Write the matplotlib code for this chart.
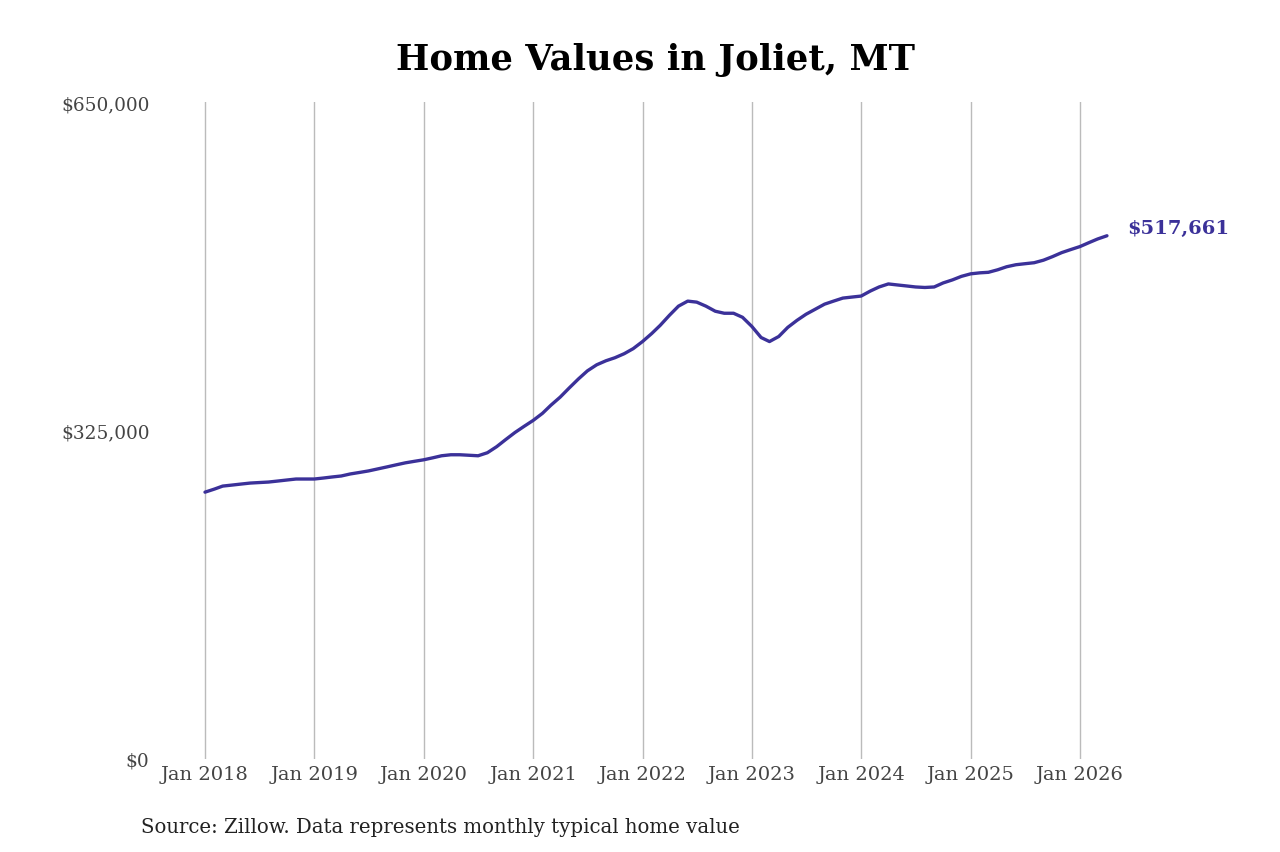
import numpy as np
import matplotlib.pyplot as plt
import matplotlib.dates as mdates
import pandas as pd

plt.rcParams['font.family'] = ['DejaVu Serif']

# monthly typical home value, Jan 2018 .. Apr 2026 (thousands of dollars)
values_k = [
    264, 267, 270, 271, 272, 273, 273.5, 274, 275, 276, 277, 277,
    277, 278, 279, 280, 282, 283.5, 285, 287, 289, 291, 293, 294.5,
    296, 298, 300, 301, 301, 300.5, 300, 303, 309, 316, 323, 329,
    335, 342, 350, 358, 367, 376, 384, 390, 394, 397, 401, 406,
    413, 421, 429, 439, 448, 453, 452, 448, 443, 441, 441, 437,
    428, 417, 413, 418, 427, 434, 440, 445, 450, 453, 456, 457,
    458, 463, 467, 470, 469, 468, 467, 466.5, 467, 471, 474, 477.5,
    480, 481, 481.5, 484, 487, 489, 490, 491, 493.5, 497, 501, 504,
    507, 511, 514.5, 517.661,
]
dates = pd.date_range('2018-01-01', periods=len(values_k), freq='MS')
values = np.array(values_k) * 1000

tick_years = list(range(2018, 2027))
tick_dates = [pd.Timestamp(f'{y}-01-01') for y in tick_years]
tick_labels = [f'Jan {y}' for y in tick_years]
y_ticks = [0, 325000, 650000]
y_labels = ['$0', '$325,000', '$650,000']

line_color = '#3b3199'

fig = plt.figure(figsize=(12.8, 8.53), dpi=100)
ax = fig.add_axes([155 / 1280, 1 - 760 / 853, (1110 - 155) / 1280, (760 - 103) / 853])

ax.plot(dates, values, color=line_color, lw=2.4, solid_capstyle='round')

x0 = mdates.date2num(pd.Timestamp('2018-01-01'))
x1 = mdates.date2num(pd.Timestamp('2026-01-01'))
per_px = (x1 - x0) / (1080 - 205)
ax.set_xlim(x0 - 50 * per_px, x1 + 30 * per_px)
ax.set_ylim(0, 650000)

ax.set_xticks(tick_dates)
ax.set_xticklabels(tick_labels)
ax.set_yticks(y_ticks)
ax.set_yticklabels(y_labels)
ax.tick_params(axis='both', length=0, labelcolor='#444444')
ax.tick_params(axis='x', pad=4, labelsize=14)
ax.tick_params(axis='y', pad=4, labelsize=13.3)

ax.grid(axis='x', color='#bbbbbb', lw=1)
ax.grid(axis='y', visible=False)
for s in ax.spines.values():
    s.set_visible(False)

ax.annotate(f'${values[-1]:,.0f}', xy=(dates[-1], values[-1]),
            xytext=(20, 8), textcoords='offset pixels',
            color=line_color, fontsize=14, fontweight='bold', va='center', ha='left')

fig.text(656 / 1280, 1 - 60 / 853, 'Home Values in Joliet, MT', ha='center', va='center',
         fontsize=25.5, fontweight='bold')
fig.text(141 / 1280, 1 - 828 / 853, 'Source: Zillow. Data represents monthly typical home value',
         ha='left', va='center', fontsize=14.2, color='#222222')

fig.savefig('out.png', dpi=100)
